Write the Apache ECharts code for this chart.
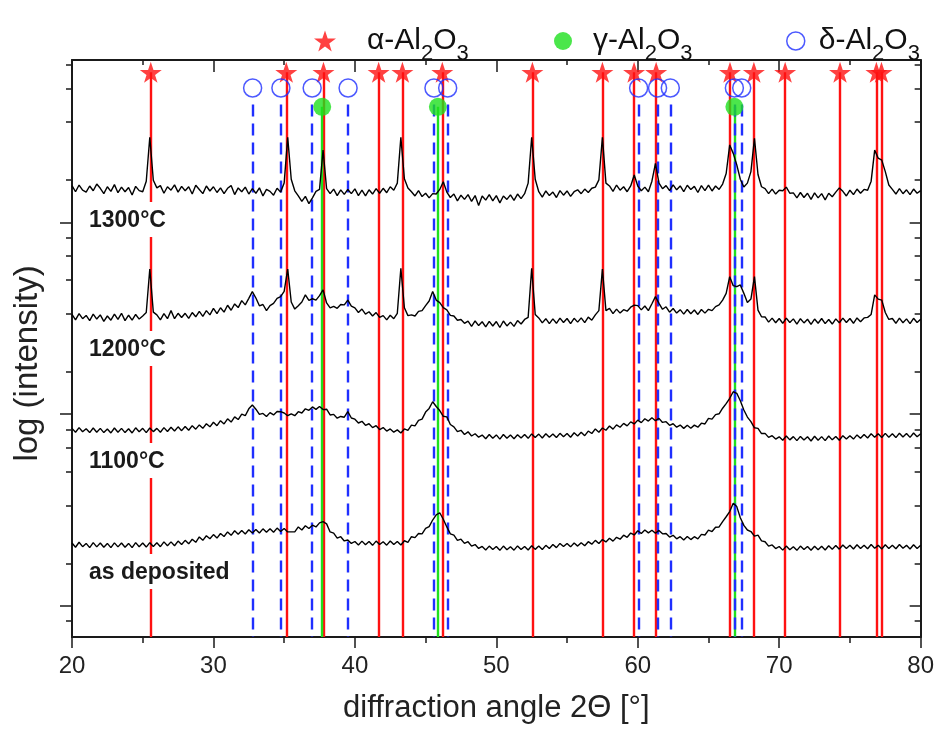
<!DOCTYPE html>
<html><head><meta charset="utf-8">
<script src="https://cdn.jsdelivr.net/npm/echarts@6/dist/echarts.min.js"></script>
<style>html,body{margin:0;padding:0;background:#fff}#chart{width:937px;height:731px}</style>
</head><body><div id="chart"></div>
<script>
// ---------------- data ----------------
const angles = [
20,20.25,20.5,20.75,21,21.25,21.5,21.75,22,22.25,22.5,22.75,23,23.25,23.5,23.75,24,24.25,24.5,24.75,
25,25.25,25.5,25.75,26,26.25,26.5,26.75,27,27.25,27.5,27.75,28,28.25,28.5,28.75,29,29.25,29.5,29.75,
30,30.25,30.5,30.75,31,31.25,31.5,31.75,32,32.25,32.5,32.75,33,33.25,33.5,33.75,34,34.25,34.5,34.75,
35,35.25,35.5,35.75,36,36.25,36.5,36.75,37,37.25,37.5,37.75,38,38.25,38.5,38.75,39,39.25,39.5,39.75,
40,40.25,40.5,40.75,41,41.25,41.5,41.75,42,42.25,42.5,42.75,43,43.25,43.5,43.75,44,44.25,44.5,44.75,
45,45.25,45.5,45.75,46,46.25,46.5,46.75,47,47.25,47.5,47.75,48,48.25,48.5,48.75,49,49.25,49.5,49.75,
50,50.25,50.5,50.75,51,51.25,51.5,51.75,52,52.25,52.5,52.75,53,53.25,53.5,53.75,54,54.25,54.5,54.75,
55,55.25,55.5,55.75,56,56.25,56.5,56.75,57,57.25,57.5,57.75,58,58.25,58.5,58.75,59,59.25,59.5,59.75,
60,60.25,60.5,60.75,61,61.25,61.5,61.75,62,62.25,62.5,62.75,63,63.25,63.5,63.75,64,64.25,64.5,64.75,
65,65.25,65.5,65.75,66,66.25,66.5,66.75,67,67.25,67.5,67.75,68,68.25,68.5,68.75,69,69.25,69.5,69.75,
70,70.25,70.5,70.75,71,71.25,71.5,71.75,72,72.25,72.5,72.75,73,73.25,73.5,73.75,74,74.25,74.5,74.75,
75,75.25,75.5,75.75,76,76.25,76.5,76.75,77,77.25,77.5,77.75,78,78.25,78.5,78.75,79,79.25,79.5,79.75,
80];

// log10(intensity)
const t1300 = [
3.192,3.160,3.195,3.168, 3.158,3.190,3.165,3.200, 3.178,3.150,3.186,3.162, 3.197,3.155,3.184,3.160, 3.182,3.143,3.188,3.166,
3.160,3.215,3.444,3.220, 3.180,3.192,3.152,3.186, 3.168,3.196,3.158,3.188, 3.165,3.186,3.148,3.194, 3.172,3.150,3.190,3.164,
3.186,3.156,3.180,3.150, 3.178,3.192,3.145,3.180, 3.160,3.184,3.148,3.176, 3.152,3.180,3.138,3.172, 3.162,3.142,3.178,3.158,
3.205,3.444,3.225,3.165, 3.138,3.110,3.136,3.098, 3.128,3.162,3.172,3.377, 3.176,3.150,3.174,3.140, 3.170,3.146,3.172,3.150,
3.175,3.140,3.168,3.138, 3.170,3.148,3.176,3.152, 3.178,3.155,3.186,3.168, 3.205,3.444,3.228,3.180, 3.160,3.138,3.166,3.135,
3.152,3.128,3.150,3.148, 3.172,3.212,3.158,3.130, 3.148,3.112,3.142,3.120, 3.145,3.110,3.140,3.088, 3.138,3.116,3.145,3.112,
3.140,3.102,3.138,3.120, 3.144,3.115,3.148,3.124, 3.150,3.205,3.444,3.225, 3.160,3.132,3.164,3.140, 3.158,3.130,3.166,3.142,
3.164,3.136,3.160,3.170, 3.150,3.174,3.156,3.178, 3.184,3.222,3.444,3.205, 3.190,3.162,3.195,3.168, 3.186,3.160,3.190,3.247,
3.190,3.165,3.184,3.160, 3.215,3.308,3.205,3.176, 3.192,3.166,3.196,3.170, 3.190,3.160,3.194,3.172, 3.188,3.156,3.192,3.166,
3.195,3.164,3.190,3.172, 3.200,3.255,3.404,3.360, 3.300,3.225,3.185,3.205, 3.265,3.439,3.250,3.186, 3.176,3.150,3.174,3.148,
3.168,3.165,3.184,3.152, 3.154,3.128,3.156,3.130, 3.152,3.120,3.154,3.128, 3.150,3.118,3.152,3.134, 3.158,3.180,3.162,3.138,
3.168,3.145,3.174,3.152, 3.172,3.168,3.215,3.377, 3.335,3.325,3.265,3.195, 3.172,3.148,3.176,3.150, 3.170,3.145,3.174,3.152,
3.166];

const t1200 = [
2.520,2.492,2.524,2.498, 2.515,2.488,2.522,2.496, 2.518,2.484,2.512,2.490, 2.522,2.494,2.526,2.488, 2.516,2.490,2.520,2.496,
2.512,2.530,2.757,2.532, 2.518,2.492,2.524,2.498, 2.540,2.498,2.526,2.504, 2.526,2.500,2.530,2.508, 2.536,2.510,2.540,2.518,
2.552,2.524,2.555,2.532, 2.568,2.542,2.575,2.556, 2.592,2.570,2.604,2.639, 2.606,2.565,2.572,2.540, 2.566,2.578,2.604,2.613,
2.640,2.757,2.585,2.548, 2.566,2.585,2.622,2.594, 2.602,2.595,2.618,2.648, 2.580,2.554,2.562,2.552, 2.572,2.570,2.595,2.564,
2.554,2.530,2.548,2.522, 2.534,2.512,2.530,2.505, 2.514,2.492,2.516,2.498, 2.526,2.761,2.555,2.514, 2.518,2.512,2.536,2.540,
2.566,2.590,2.640,2.595, 2.582,2.556,2.544,2.515, 2.512,2.490,2.494,2.474, 2.485,2.458,2.486,2.462, 2.482,2.455,2.484,2.460,
2.483,2.452,2.486,2.460, 2.480,2.458,2.488,2.470, 2.494,2.505,2.761,2.520, 2.502,2.476,2.498,2.472, 2.497,2.474,2.501,2.478,
2.499,2.472,2.500,2.480, 2.502,2.477,2.506,2.490, 2.518,2.540,2.757,2.540, 2.552,2.524,2.548,2.527, 2.545,2.537,2.558,2.569,
2.566,2.544,2.564,2.540, 2.576,2.613,2.578,2.547, 2.560,2.532,2.551,2.527, 2.545,2.522,2.546,2.524, 2.543,2.520,2.546,2.527,
2.547,2.540,2.561,2.570, 2.595,2.630,2.717,2.670, 2.665,2.674,2.630,2.582, 2.600,2.717,2.543,2.508, 2.507,2.480,2.501,2.477,
2.499,2.474,2.501,2.478, 2.497,2.470,2.498,2.476, 2.495,2.468,2.496,2.474, 2.499,2.472,2.494,2.470, 2.497,2.477,2.501,2.478,
2.499,2.474,2.502,2.482, 2.502,2.505,2.520,2.622, 2.600,2.595,2.530,2.494, 2.499,2.474,2.501,2.477, 2.497,2.472,2.500,2.478,
2.495];

const t1100 = [
1.926,1.906,1.930,1.908, 1.924,1.904,1.928,1.906, 1.926,1.904,1.923,1.902, 1.928,1.906,1.926,1.904, 1.924,1.902,1.929,1.908,
1.926,1.904,1.928,1.909, 1.926,1.906,1.930,1.910, 1.932,1.912,1.934,1.914, 1.936,1.916,1.940,1.922, 1.944,1.926,1.950,1.934,
1.958,1.940,1.966,1.949, 1.976,1.959,1.986,1.972, 2.000,1.992,2.028,2.048, 2.026,1.999,2.004,1.988, 2.008,1.996,2.014,2.013,
2.006,1.992,2.002,1.992, 2.013,2.006,2.028,2.020, 2.038,2.025,2.040,2.024, 2.026,1.996,1.999,1.979, 1.988,1.984,2.013,1.980,
1.974,1.954,1.963,1.942, 1.950,1.930,1.940,1.920, 1.930,1.912,1.923,1.906, 1.918,1.902,1.923,1.916, 1.943,1.939,1.968,1.974,
2.011,2.030,2.065,2.040, 2.019,1.989,1.986,1.946, 1.934,1.909,1.916,1.894, 1.908,1.886,1.898,1.880, 1.891,1.872,1.894,1.874,
1.892,1.870,1.894,1.874, 1.891,1.872,1.893,1.876, 1.894,1.874,1.897,1.878, 1.896,1.876,1.898,1.880, 1.897,1.878,1.900,1.882,
1.899,1.880,1.903,1.886, 1.906,1.888,1.912,1.899, 1.923,1.906,1.928,1.916, 1.938,1.922,1.944,1.932, 1.952,1.939,1.960,1.949,
1.969,1.956,1.976,1.964, 1.981,1.966,1.978,1.957, 1.961,1.942,1.950,1.932, 1.943,1.926,1.942,1.927, 1.943,1.932,1.953,1.949,
1.978,1.974,1.998,2.002, 2.031,2.055,2.083,2.117, 2.109,2.070,2.022,1.985, 1.961,1.929,1.926,1.899, 1.900,1.879,1.888,1.870,
1.882,1.864,1.886,1.866, 1.883,1.862,1.884,1.865, 1.882,1.860,1.885,1.864, 1.883,1.862,1.886,1.866, 1.884,1.864,1.888,1.870,
1.888,1.870,1.892,1.874, 1.894,1.876,1.898,1.880, 1.898,1.878,1.900,1.880, 1.898,1.878,1.901,1.881, 1.899,1.879,1.902,1.882,
1.898];

const tAsDeposited = [
1.328,1.306,1.332,1.309, 1.326,1.304,1.330,1.308, 1.328,1.306,1.326,1.304, 1.329,1.308,1.328,1.306, 1.326,1.304,1.330,1.309,
1.328,1.307,1.330,1.310, 1.329,1.309,1.334,1.314, 1.334,1.314,1.338,1.320, 1.342,1.324,1.348,1.332, 1.360,1.342,1.366,1.350,
1.372,1.354,1.378,1.362, 1.386,1.368,1.392,1.374, 1.393,1.375,1.397,1.380, 1.399,1.380,1.402,1.384, 1.403,1.384,1.406,1.388,
1.404,1.386,1.386,1.386, 1.412,1.396,1.418,1.404, 1.421,1.412,1.433,1.440, 1.428,1.386,1.380,1.354, 1.361,1.339,1.344,1.326,
1.336,1.318,1.338,1.319, 1.336,1.316,1.338,1.320, 1.335,1.317,1.339,1.320, 1.336,1.318,1.340,1.332, 1.361,1.356,1.378,1.376,
1.404,1.414,1.448,1.475, 1.486,1.452,1.412,1.376, 1.369,1.342,1.348,1.326, 1.335,1.312,1.320,1.300, 1.310,1.292,1.312,1.294,
1.310,1.290,1.312,1.293, 1.309,1.291,1.313,1.294, 1.310,1.292,1.314,1.295, 1.312,1.294,1.316,1.300, 1.320,1.304,1.326,1.310,
1.326,1.308,1.328,1.312, 1.330,1.314,1.335,1.322, 1.342,1.326,1.346,1.334, 1.353,1.338,1.358,1.348, 1.369,1.358,1.380,1.370,
1.392,1.378,1.396,1.381, 1.395,1.379,1.394,1.376, 1.378,1.359,1.368,1.350, 1.361,1.344,1.362,1.346, 1.361,1.350,1.373,1.370,
1.395,1.388,1.410,1.412, 1.440,1.465,1.492,1.535, 1.518,1.460,1.420,1.396, 1.388,1.364,1.369,1.339, 1.335,1.312,1.318,1.299,
1.310,1.291,1.312,1.293, 1.309,1.290,1.312,1.294, 1.310,1.290,1.311,1.293, 1.311,1.292,1.314,1.296, 1.315,1.296,1.318,1.300,
1.316,1.297,1.319,1.300, 1.317,1.298,1.320,1.301, 1.316,1.297,1.319,1.300, 1.317,1.298,1.320,1.301, 1.316,1.297,1.319,1.300,
1.316];

const sampleLabels = ['1300°C', '1200°C', '1100°C', 'as deposited'];

// reference peak positions (2θ, degrees)
const alphaPeaks = [25.57, 35.15, 37.78, 41.68, 43.36, 46.18, 52.55, 57.50, 59.74, 61.30, 66.52, 68.21, 70.42, 74.30, 76.87, 77.23];
const gammaPeaks = [37.69, 45.87, 66.83];
const deltaPeaks = [32.77, 34.77, 36.98, 39.52, 45.59, 46.56, 60.06, 61.40, 62.30, 66.83, 67.35];
const phaseNames = ['α-Al2O3', 'γ-Al2O3', 'δ-Al2O3'];

// axis ticks
const xMin = 20, xMax = 80, xStep = 10;
const yMajorTicks = [1, 2, 3];
const yMinorMantissa = [1.6667, 3.3333, 5, 6.6667, 8.3333];

// ---------------- layout / style ----------------
const yMin = 0.838, yMax = 3.847;
const ROW = { alpha: 3.783, delta: 3.701, gamma: 3.603, deltaLineTop: 3.615 };
const FONT = '"Liberation Sans", Arial, Helvetica, sans-serif';
const AX = '#1a1a1a';
const RED = '#ff1111', GREEN = '#1ee01e', BLUE = '#1f2fff';
const STAR = 'path://M50,0L61.8,35.1L98.1,35.1L68.7,56.9L79.4,91L50,70L20.6,91L31.3,56.9L1.9,35.1L38.2,35.1Z';

const yMinorTicks = [];
for (let d = 0; d <= 3; d++) yMinorMantissa.forEach(m => {
  const v = d + Math.log10(m);
  if (v > yMin && v < yMax) yMinorTicks.push(v);
});

const pairs = ys => angles.map((a, i) => [a, ys[i]]);
const segs = (peaks, top) => peaks.map(p => [{ coord: [p, top] }, { coord: [p, yMin] }]);

const traceSeries = [t1300, t1200, t1100, tAsDeposited].map((ys, i) => ({
  type: 'line', name: sampleLabels[i], data: pairs(ys), showSymbol: false, symbol: 'none',
  lineStyle: { color: '#000', width: 1.4 }, z: 6, silent: true
}));

function markLineOf(peaks, top, color, type, width) {
  return {
    silent: true, symbol: ['none', 'none'], label: { show: false }, z: 2,
    lineStyle: { color, width, type, opacity: 1 }, emphasis: { disabled: true },
    data: segs(peaks, top)
  };
}

const phaseSeries = [
  { type: 'scatter', name: phaseNames[0], data: alphaPeaks.map(p => [p, ROW.alpha]),
    symbol: STAR, symbolSize: 22, symbolKeepAspect: true, itemStyle: { color: RED }, z: 4, silent: true,
    markLine: markLineOf(alphaPeaks, ROW.alpha, RED, 'solid', 2.4) },
  { type: 'scatter', name: phaseNames[1], data: gammaPeaks.map(p => [p, ROW.gamma]),
    symbol: 'circle', symbolSize: 18, itemStyle: { color: GREEN }, z: 4, silent: true,
    markLine: markLineOf(gammaPeaks, ROW.gamma, GREEN, 'solid', 2.4) },
  { type: 'scatter', name: phaseNames[2], data: deltaPeaks.map(p => [p, ROW.delta]),
    symbol: 'circle', symbolSize: 18, itemStyle: { color: 'rgba(255,255,255,0)', borderColor: BLUE, borderWidth: 1.5 }, z: 4, silent: true,
    markLine: markLineOf(deltaPeaks, ROW.deltaLineTop, BLUE, [12, 7], 2.4) }
];

const legendRich = {
  t: { fontSize: 30, fontFamily: FONT, color: '#111', lineHeight: 30, verticalAlign: 'top' },
  s: { fontSize: 22, fontFamily: FONT, color: '#111', lineHeight: 22, verticalAlign: 'top', padding: [17, 0, 0, 0] }
};
const legendFmt = name => {
  const pre = name.replace('2O3', '');
  return '{t|' + pre + '}{s|2}{t|O}{s|3}';
};
function legendOf(name, left, icon, itemStyle, size, pad) {
  return {
    left, top: 21, orient: 'horizontal', selectedMode: false, itemWidth: size, itemHeight: size,
    data: [{ name, icon, itemStyle }], formatter: legendFmt,
    textStyle: { rich: legendRich, padding: [0, 0, 0, pad] }
  };
}

const xCommon = { type: 'value', min: xMin, max: xMax, interval: xStep, splitLine: { show: false },
  axisLine: { show: true, onZero: false, lineStyle: { color: AX, width: 2 } } };
const yCommon = { type: 'value', min: yMin, max: yMax, splitLine: { show: false }, axisLabel: { show: false } };

const option = {
  animation: false,
  backgroundColor: '#fff',
  textStyle: { fontFamily: FONT },
  grid: { left: 72, right: 15, top: 60, bottom: 94, containLabel: false },
  legend: [
    legendOf(phaseNames[0], 309, STAR, { color: RED }, 22, 26),
    legendOf(phaseNames[1], 549, 'circle', { color: GREEN }, 18, 16),
    legendOf(phaseNames[2], 781, 'circle', { color: '#fff', borderColor: BLUE, borderWidth: 1.5 }, 18, 9)
  ],
  xAxis: [
    Object.assign({}, xCommon, { position: 'bottom',
      axisTick: { show: true, inside: false, length: 11, lineStyle: { color: AX, width: 1.5 } },
      minorTick: { show: true, splitNumber: 2, length: 6, lineStyle: { color: AX, width: 1.5 } },
      axisLabel: { fontSize: 24, color: '#222', margin: 17, fontFamily: FONT },
      name: 'diffraction angle 2Θ [°]', nameLocation: 'middle', nameGap: 56,
      nameTextStyle: { fontSize: 31, color: '#222', fontFamily: FONT } }),
    Object.assign({}, xCommon, { position: 'top',
      axisTick: { show: true, inside: true, length: 12, lineStyle: { color: AX, width: 1.5 } },
      minorTick: { show: true, splitNumber: 2, length: 5, lineStyle: { color: AX, width: 1.5 } },
      axisLabel: { show: false } })
  ],
  yAxis: [
    Object.assign({}, yCommon, { position: 'left',
      axisLine: { show: true, onZero: false, lineStyle: { color: AX, width: 2 } },
      axisTick: { show: true, inside: false, length: 12, customValues: yMajorTicks, lineStyle: { color: AX, width: 1.5 } },
      name: 'log (intensity)', nameLocation: 'middle', nameGap: 28, nameRotate: 90,
      nameTextStyle: { fontSize: 33, color: '#222', fontFamily: FONT, padding: [0, 30, 0, 0] } }),
    Object.assign({}, yCommon, { position: 'left', axisLine: { show: false },
      axisTick: { show: true, inside: false, length: 6, customValues: yMinorTicks, lineStyle: { color: AX, width: 1.5 } } }),
    Object.assign({}, yCommon, { position: 'right',
      axisLine: { show: true, onZero: false, lineStyle: { color: AX, width: 2 } },
      axisTick: { show: true, inside: true, length: 11, customValues: yMajorTicks, lineStyle: { color: AX, width: 1.5 } } }),
    Object.assign({}, yCommon, { position: 'right', axisLine: { show: false },
      axisTick: { show: true, inside: true, length: 6, customValues: yMinorTicks, lineStyle: { color: AX, width: 1.5 } } })
  ],
  graphic: [
    { top: 202 }, { top: 331 }, { top: 443 }, { top: 554 }
  ].map((g, i) => ({
    type: 'text', left: 85, top: g.top, z: 100, silent: true,
    style: { text: sampleLabels[i], font: 'bold 23px ' + FONT, fill: '#1a1a1a',
      backgroundColor: '#fff', padding: [7, 4, 5, 4] }
  })),
  series: phaseSeries.concat(traceSeries)
};

const chart = echarts.init(document.getElementById('chart'), null, { renderer: 'canvas' });
chart.setOption(option);
</script>
</body></html>
